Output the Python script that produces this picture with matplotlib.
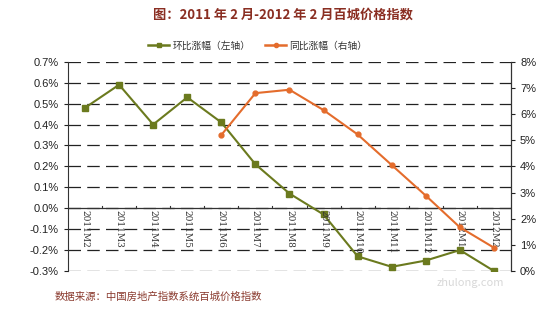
import numpy as np
import matplotlib.pyplot as plt
from matplotlib.ticker import FuncFormatter

plt.rcParams['font.family'] = ['Noto Sans CJK SC', 'DejaVu Sans']

months = ["2011M2", "2011M3", "2011M4", "2011M5", "2011M6", "2011M7", "2011M8",
          "2011M9", "2011M10", "2011M11", "2011M12", "2012M1", "2012M2"]
# 环比 (left axis), %
mom = [0.48, 0.59, 0.40, 0.53, 0.41, 0.21, 0.07, -0.03, -0.23, -0.28, -0.25, -0.20, -0.30]
# 同比 (right axis), %, starts at 2011M6
yoy = [None, None, None, None, 5.2, 6.8, 6.93, 6.15, 5.22, 4.05, 2.88, 1.67, 0.89]

green = "#6B7A1E"
orange = "#E46C2C"
title_col = "#8A2E22"

fig = plt.figure(figsize=(5.6, 3.15), dpi=100)
ax = fig.add_axes([0.1214, 0.1397, 0.7911, 0.6643])
ax2 = ax.twinx()

x = np.arange(len(months))
ax.plot(x, mom, color=green, lw=1.5, marker="s", ms=4, zorder=3)
yx = [i for i, v in enumerate(yoy) if v is not None]
yv = [v for v in yoy if v is not None]
ax2.plot(yx, yv, color=orange, lw=1.5, marker="o", ms=3.5, zorder=3)

ax.set_xlim(-0.5, len(months) - 0.5)
ax.set_ylim(-0.3, 0.7)
ax.set_yticks(np.arange(-0.3, 0.71, 0.1))
ax.yaxis.set_major_formatter(FuncFormatter(lambda v, p: f"{v:.1f}%"))
ax2.set_ylim(0, 8)
ax2.set_yticks(range(0, 9))
ax2.yaxis.set_major_formatter(FuncFormatter(lambda v, p: f"{v:.0f}%"))

for yy in np.arange(-0.3, 0.71, 0.1):
    ax.axhline(yy, color="#222222", lw=0.9, ls=(0, (10, 5)), zorder=1)
ax.axhline(0, color="#333333", lw=0.9, zorder=2)

for s in ["top", "bottom"]:
    ax.spines[s].set_visible(False)
    ax2.spines[s].set_visible(False)
ax.spines["left"].set_color("#333333")
ax2.spines["right"].set_color("#333333")
ax2.spines["left"].set_visible(False)

ax.tick_params(axis="y", labelsize=8, length=3, colors="#222222")
ax2.tick_params(axis="y", labelsize=8, length=3, colors="#222222")
for lab in ax.get_yticklabels() + ax2.get_yticklabels():
    lab.set_family(["Liberation Sans"])
ax.set_xticks([])
for i, m in enumerate(months):
    ax.text(i, -0.01, m, rotation=-90, ha="center", va="top", fontsize=6.5,
            color="#333333", family=["DejaVu Serif"], zorder=4)
for b in np.arange(0.5, len(months) - 0.5, 1):
    ax.plot([b, b], [0, 0.012], color="#333333", lw=0.8, zorder=2)

fig.text(0.505, 0.955, "图：2011 年 2 月-2012 年 2 月百城价格指数", ha="center",
         va="center", fontsize=9.5, fontweight="bold", color=title_col)

lh = [plt.Line2D([], [], color=green, lw=1.8, marker="s", ms=3),
      plt.Line2D([], [], color=orange, lw=1.8, marker="o", ms=3)]
fig.legend(lh, ["环比涨幅（左轴）", "同比涨幅（右轴）"], loc="center",
           bbox_to_anchor=(0.46, 0.855), ncol=2, frameon=False, fontsize=7,
           handlelength=2.2, columnspacing=1.5, handletextpad=0.3,
           labelcolor="#333333")

fig.text(0.098, 0.057, "数据来源：中国房地产指数系统百城价格指数", ha="left",
         va="center", fontsize=7.5, color="#8A3A2E")
fig.text(0.9, 0.1, "zhulong.com", ha="right", va="center", fontsize=8,
         color="#D8D8D8")

fig.savefig("out.png", dpi=100, facecolor="white")
